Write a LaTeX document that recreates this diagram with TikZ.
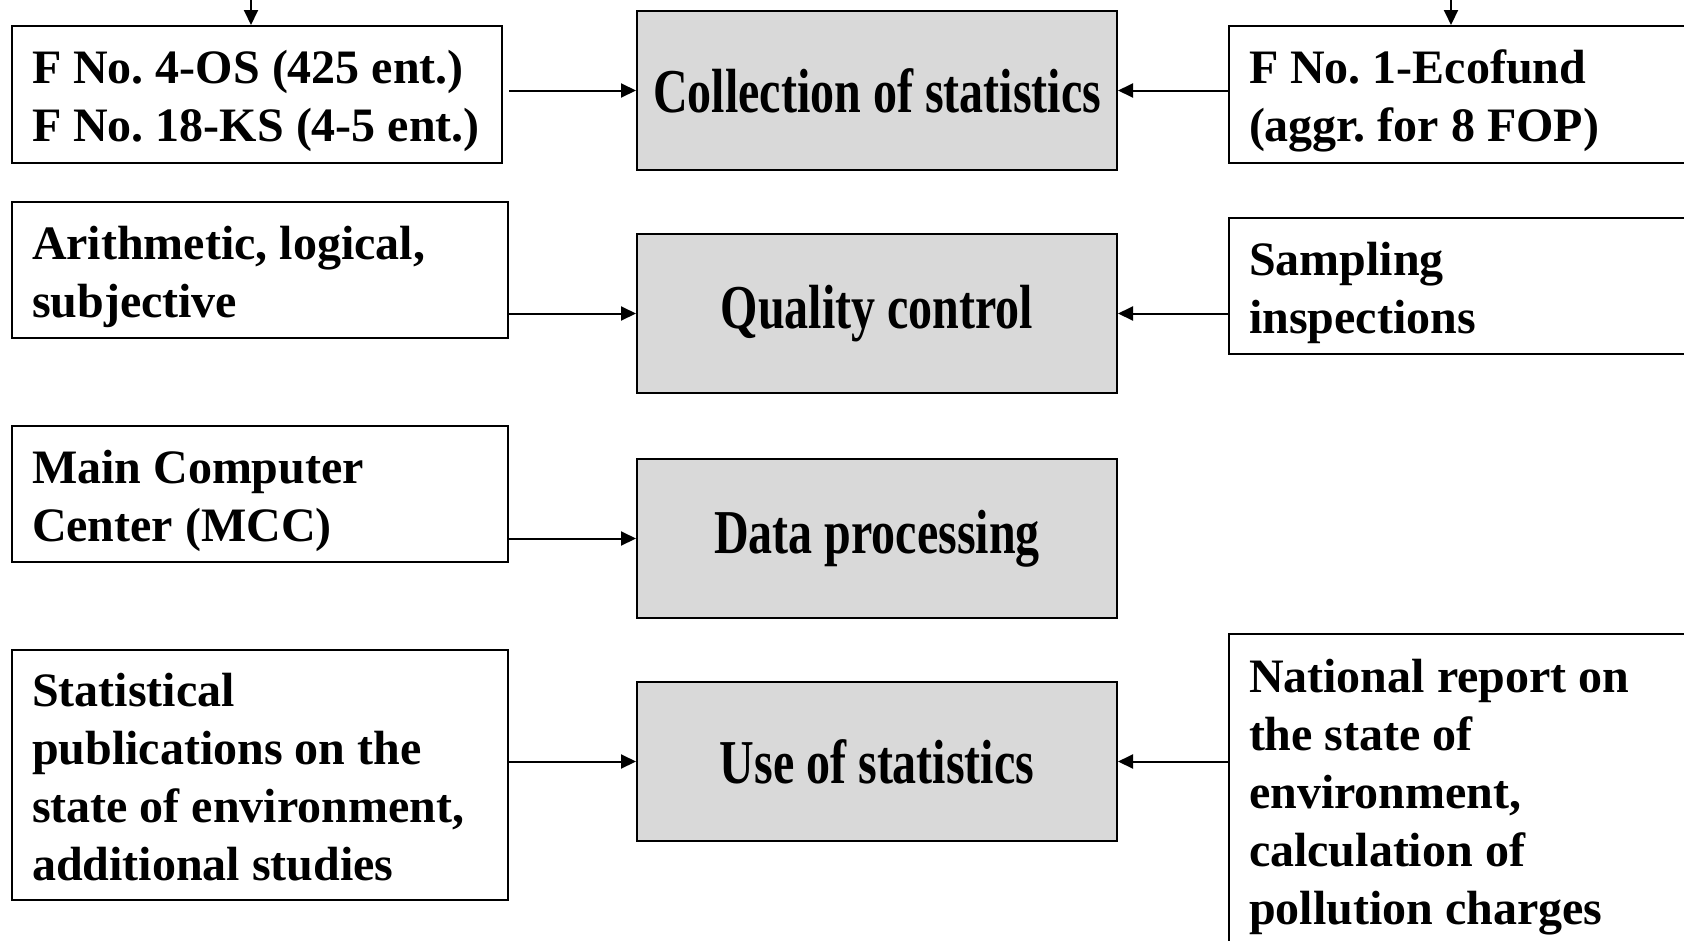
\documentclass[tikz,border=0pt]{standalone}
\usepackage{fontspec, graphicx}
\setmainfont{Liberation Serif}
\frenchspacing
\usetikzlibrary{arrows.meta}
\definecolor{stagegray}{HTML}{D9D9D9}
\newcommand{\tallText}[1]{\scalebox{1}[1.3]{#1}}
\newcommand{\topStrut}{\rule{0pt}{47pt}}
\newcommand{\botStrut}{\rule[-10pt]{0pt}{10pt}}
\tikzset{>={Triangle[length=15pt,width=14pt]}}
\tikzset{
  side/.style={draw, line width=2pt, align=flush left, inner xsep=20pt, inner ysep=0pt,
    font=\fontsize{48}{58}\selectfont\bfseries},
  stage/.style={draw, line width=2pt, fill=stagegray, minimum width=480pt,
    minimum height=159pt, font=\fontsize{48}{58}\selectfont\bfseries},
  flow/.style={->, line width=2pt}
}

\begin{document}
\begin{tikzpicture}[x=1pt,y=-1pt]
\clip (0,0) rectangle (1684,940);
% stages in the middle
\node[stage] (C1) at (877,90.5) {\tallText{Collection of statistics}};
\node[stage] (C2) at (877,313.5) {\tallText{Quality control}};
\node[stage] (C3) at (877,538.5) {\tallText{Data processing}};
\node[stage] (C4) at (877,761.5) {\tallText{Use of statistics}};
% left column
\node[side, text width=450pt, minimum height=137pt] (A1) at (257,94.5)
  {\topStrut F No. 4-OS (425 ent.)\\F No. 18-KS (4-5 ent.)\botStrut};
\node[side, text width=456pt, minimum height=136pt] (A2) at (260,270)
  {\topStrut Arithmetic, logical,\\subjective\botStrut};
\node[side, text width=456pt, minimum height=136pt] (A3) at (260,494)
  {\topStrut Main Computer\\Center (MCC)\botStrut};
\node[side, text width=456pt, minimum height=250pt] (A4) at (260,775)
  {\topStrut Statistical\\publications on the\\state of environment,\\additional studies\botStrut};
% right column
\node[side, text width=460pt, minimum height=137pt] (B1) at (1479,94.5)
  {\topStrut F No. 1-Ecofund\\(aggr. for 8 FOP)\botStrut};
\node[side, text width=460pt, minimum height=136pt] (B2) at (1479,286)
  {\topStrut Sampling\\inspections\botStrut};
\node[side, text width=460pt, minimum height=312pt] (B4) at (1479,790)
  {\topStrut National report on\\the state of\\environment,\\calculation of\\pollution charges\botStrut};
% incoming from above
\coordinate (inL) at (251,-10);
\coordinate (inR) at (1451,-10);
\draw[flow] (inL) -- (inL |- A1.north);
\draw[flow] (inR) -- (inR |- B1.north);
% into the stages
\draw[flow] (C1.west -| A2.east) -- (C1.west);
\draw[flow] (C2.west -| A2.east) -- (C2.west);
\draw[flow] (C3.west -| A3.east) -- (C3.west);
\draw[flow] (C4.west -| A4.east) -- (C4.west);
\draw[flow] (C1.east -| B1.west) -- (C1.east);
\draw[flow] (C2.east -| B2.west) -- (C2.east);
\draw[flow] (C4.east -| B4.west) -- (C4.east);
\end{tikzpicture}
\end{document}
